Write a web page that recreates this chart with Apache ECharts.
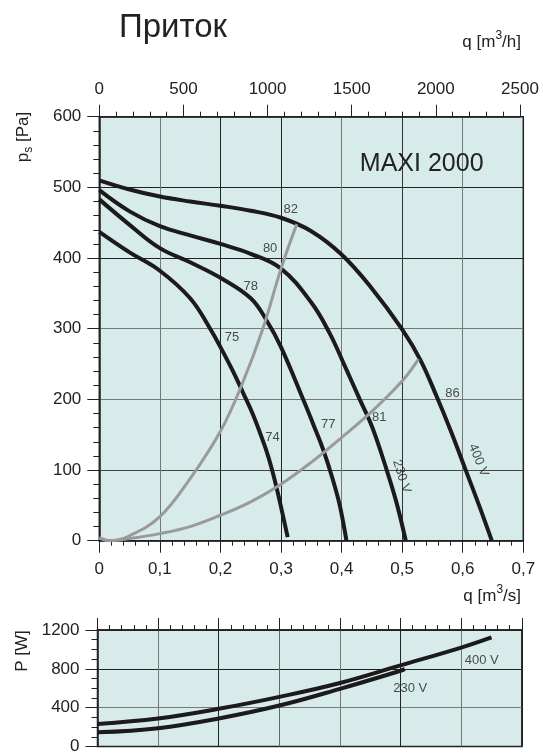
<!DOCTYPE html>
<html>
<head>
<meta charset="utf-8">
<script src="https://cdn.jsdelivr.net/npm/echarts@6.0.0/dist/echarts.min.js"></script>
<style>
html, body { margin: 0; padding: 0; background: #fff; }
#chart { width: 543px; height: 755px; }
</style>
</head>
<body>
<div id="chart"></div>
<script>
// fan curves, q [m3/s] -> ps [Pa]
var fan400V = [[0,510],[0.05,497],[0.1,487],[0.15,480],[0.2,474],[0.25,467],[0.3,457],[0.35,438],[0.4,405],[0.45,357],[0.5,299],[0.53,256],[0.557,204],[0.58,156],[0.604,102],[0.627,50],[0.648,0]];
var fan230V = [[0,496],[0.05,466],[0.1,445],[0.15,432],[0.2,420],[0.25,406],[0.3,385],[0.35,337],[0.38,294],[0.408,242],[0.43,200],[0.45,162],[0.473,104],[0.49,56],[0.506,0]];
var fanStep2 = [[0,483],[0.05,447],[0.1,414],[0.15,394],[0.2,372],[0.25,343],[0.276,312],[0.3,274],[0.337,199],[0.355,161],[0.37,128],[0.385,88],[0.397,50],[0.408,0]];
var fanStep1 = [[0,437],[0.05,408],[0.1,382],[0.15,343],[0.183,300],[0.2,274],[0.22,241],[0.237,210],[0.254,178],[0.274,132],[0.284,104],[0.293,74],[0.302,40],[0.311,5]];

// system curves (grey)
var systemSteep = [[0,4],[0.018,0],[0.05,7],[0.1,34],[0.15,88],[0.2,155],[0.235,220],[0.27,300],[0.3,385],[0.326,448]];
var systemFlat = [[0,4],[0.018,0],[0.05,3],[0.1,10],[0.15,20],[0.2,36],[0.25,55],[0.3,80],[0.35,111],[0.4,146],[0.45,183],[0.5,226],[0.527,257]];

// power curves, q [m3/s] -> P [W]
var power400V = [[0,233],[0.1,289],[0.2,388],[0.3,511],[0.4,654],[0.5,836],[0.6,1019],[0.65,1124]];
var power230V = [[0,146],[0.1,189],[0.2,289],[0.3,422],[0.4,594],[0.5,780],[0.507,796]];

// labels on the curves: q, value, text, rotation (deg)
var curveLabels = [
    [0.316,469,'82',0],[0.282,414,'80',0],[0.250,360,'78',0],[0.219,288,'75',0],
    [0.286,146,'74',0],[0.378,164,'77',0],[0.462,175,'81',0],[0.583,208,'86',0],
    [0.499,91,'230 V',-72],[0.626,114,'400 V',-68]
];
var powerLabels = [[0.634,886,'400 V'],[0.516,594,'230 V']];

var flowM3hMax = 2500;   // top axis [m3/h]
var qMax = 0.7;          // bottom axis [m3/s]

var FONT = '"Liberation Sans", Arial, Helvetica, sans-serif';
var INK = '#222';
var BG = '#d7ecea';

var myChart = echarts.init(document.getElementById('chart'));

function qLabel(v) {
    return v === 0 ? '0' : v.toFixed(1).replace('.', ',');
}
function plain(v) {
    return String(v);
}

function labelSeries(xi, yi, list, size) {
    return {
        type: 'scatter', xAxisIndex: xi, yAxisIndex: yi,
        symbolSize: 1, silent: true, z: 5,
        itemStyle: { color: 'transparent' },
        data: list.map(function (l) {
            return { value: [l[0], l[1]], name: l[2], label: { rotate: l[3] || 0 } };
        }),
        label: { show: true, position: 'inside', formatter: '{b}', color: INK, fontSize: size, fontFamily: FONT }
    };
}

function curve(xi, yi, data, color, width) {
    return {
        type: 'line', xAxisIndex: xi, yAxisIndex: yi, data: data,
        smooth: 0.4, showSymbol: false, silent: true,
        lineStyle: { color: color, width: width, cap: 'butt' }
    };
}

var axisText = { color: INK, fontSize: 17, fontFamily: FONT };
var lineInk = { show: true, onZero: false, lineStyle: { color: INK, width: 1.5 } };

option = {
    animation: false,
    grid: [
        { left: 99.3, top: 116.7, width: 424, height: 424, show: true, backgroundColor: BG, borderColor: INK, borderWidth: 1.5 },
        { left: 99.3, top: 116.7, width: 424 * flowM3hMax / (qMax * 3600), height: 424, show: false },
        { left: 97.5, top: 630, width: 424.3, height: 120.7, show: true, backgroundColor: BG, borderColor: INK, borderWidth: 1.5 }
    ],
    xAxis: [
        {
            type: 'value', gridIndex: 0, position: 'bottom', min: 0, max: qMax, interval: 0.1,
            axisLine: lineInk,
            axisTick: { show: true, length: 12, lineStyle: { color: INK } },
            minorTick: { show: true, splitNumber: 5, length: 5, lineStyle: { color: INK } },
            splitLine: { show: true, lineStyle: { width: 1, color: ['#222','#777','#222','#222','#777','#333','#777','#222'] } },
            axisLabel: Object.assign({ margin: 20, formatter: qLabel }, axisText)
        },
        {
            type: 'value', gridIndex: 1, position: 'top', min: 0, max: flowM3hMax, interval: 500,
            axisLine: lineInk,
            axisTick: { show: true, length: 12, lineStyle: { color: INK } },
            minorTick: { show: true, splitNumber: 5, length: 5, lineStyle: { color: INK } },
            splitLine: { show: false },
            axisLabel: Object.assign({ margin: 19, formatter: plain }, axisText)
        },
        {
            type: 'value', gridIndex: 2, position: 'top', min: 0, max: qMax, interval: 0.1,
            axisLine: lineInk,
            axisTick: { show: true, length: 12, lineStyle: { color: INK } },
            minorTick: { show: true, splitNumber: 5, length: 5, lineStyle: { color: INK } },
            splitLine: { show: true, lineStyle: { width: 1, color: ['#222','#777','#222','#666','#777','#222','#777','#222'] } },
            axisLabel: { show: false }
        }
    ],
    yAxis: [
        {
            type: 'value', gridIndex: 0, min: 0, max: 600, interval: 100,
            axisLine: lineInk,
            axisTick: { show: true, length: 12, lineStyle: { color: INK } },
            minorTick: { show: true, splitNumber: 5, length: 6, lineStyle: { color: INK } },
            splitLine: { show: true, lineStyle: { width: 1, color: ['#222','#444','#777','#777','#222','#222','#222'] } },
            axisLabel: Object.assign({ margin: 18, formatter: plain }, axisText)
        },
        { type: 'value', gridIndex: 1, min: 0, max: 600, show: false },
        {
            type: 'value', gridIndex: 2, min: 0, max: 1200, interval: 400,
            axisLine: lineInk,
            axisTick: { show: true, length: 12, lineStyle: { color: INK } },
            minorTick: { show: true, splitNumber: 4, length: 6, lineStyle: { color: INK } },
            splitLine: { show: true, lineStyle: { width: 1, color: ['#222','#777','#222','#222'] } },
            axisLabel: Object.assign({ margin: 18, formatter: plain }, axisText)
        }
    ],
    graphic: [
        { type: 'text', x: 173, y: 28, style: { text: 'Приток', fontSize: 33, fontFamily: FONT, fill: INK, textAlign: 'center', textVerticalAlign: 'middle' } },
        { type: 'text', x: 521, y: 42, style: {
            text: 'q [m{s|3}/h]', fontSize: 17, fontFamily: FONT, fill: INK, textAlign: 'right', textVerticalAlign: 'middle', lineHeight: 24,
            rich: { s: { fontSize: 12, fontFamily: FONT, fill: INK, verticalAlign: 'top', lineHeight: 12 } }
        } },
        { type: 'text', x: 521, y: 596, style: {
            text: 'q [m{s|3}/s]', fontSize: 17, fontFamily: FONT, fill: INK, textAlign: 'right', textVerticalAlign: 'middle', lineHeight: 24,
            rich: { s: { fontSize: 12, fontFamily: FONT, fill: INK, verticalAlign: 'top', lineHeight: 12 } }
        } },
        { type: 'text', x: 23, y: 137, rotation: Math.PI / 2, style: {
            text: 'p{s|s} [Pa]', fontSize: 17, fontFamily: FONT, fill: INK, textAlign: 'center', textVerticalAlign: 'middle', lineHeight: 24,
            rich: { s: { fontSize: 12, fontFamily: FONT, fill: INK, verticalAlign: 'bottom', lineHeight: 12 } }
        } },
        { type: 'text', x: 22, y: 651, rotation: Math.PI / 2, style: { text: 'P [W]', fontSize: 17, fontFamily: FONT, fill: INK, textAlign: 'center', textVerticalAlign: 'middle' } },
        { type: 'text', x: 421.7, y: 164, z: 10, style: { text: 'MAXI 2000', fontSize: 25, fontFamily: FONT, fill: INK, textAlign: 'center', textVerticalAlign: 'middle' } }
    ],
    series: [
        curve(0, 0, fan400V, '#1c1a1a', 4),
        curve(0, 0, fan230V, '#1c1a1a', 4),
        curve(0, 0, fanStep2, '#1c1a1a', 4),
        curve(0, 0, fanStep1, '#1c1a1a', 4),
        curve(0, 0, systemSteep, '#9a9a9a', 3),
        curve(0, 0, systemFlat, '#9a9a9a', 3),
        labelSeries(0, 0, curveLabels, 13),
        curve(2, 2, power400V, '#1c1a1a', 4),
        curve(2, 2, power230V, '#1c1a1a', 4),
        labelSeries(2, 2, powerLabels, 13)
    ]
};
myChart.setOption(option);
</script>
</body>
</html>
